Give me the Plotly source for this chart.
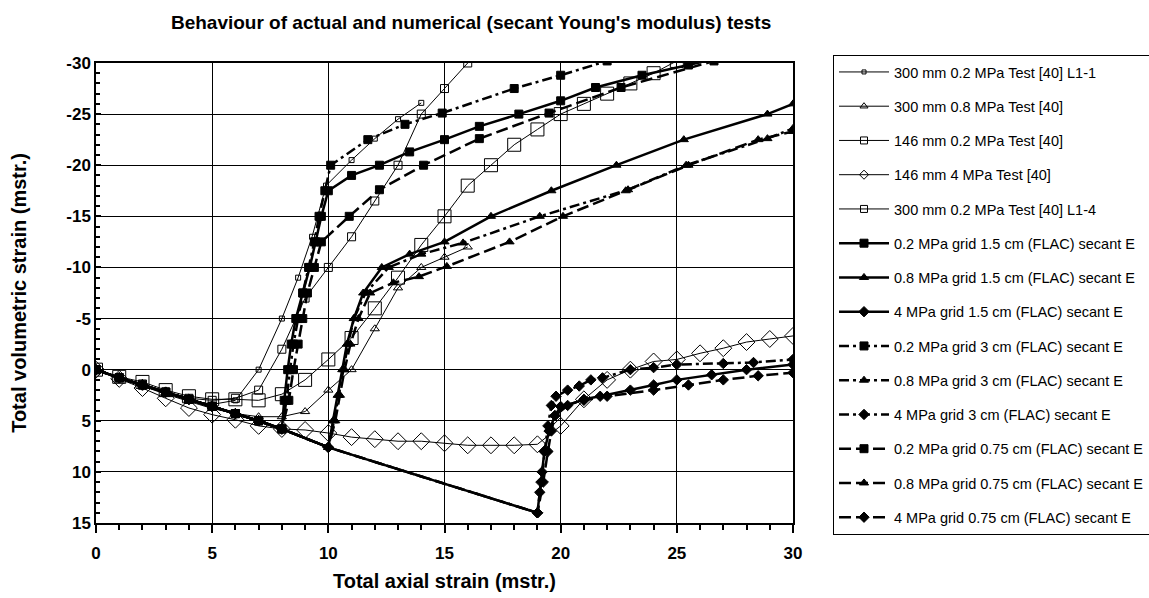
import plotly.graph_objects as go

# ---------------- data ----------------
# common initial branch of the FLAC curves
base_x = [0, 1, 2, 3, 4, 5, 6, 7, 8]
base_y = [0, 0.8, 1.5, 2.2, 2.9, 3.6, 4.3, 5.0, 5.8]

# Test series
t1_x = [0, 1, 2, 3, 4, 5, 6, 7, 8, 8.7, 9.3, 9.9, 11, 12, 13, 14]
t1_y = [0, 0.8, 1.5, 2.3, 3.0, 3.4, 3.0, 0, -5, -9, -13, -18, -20.5, -22.6, -24.5, -26.1]

t2_x = [0, 1, 2, 3, 4, 5, 6, 7, 8, 9, 10, 11, 12, 13, 14, 15, 16]
t2_y = [0, 0.8, 1.6, 2.4, 3.1, 3.8, 4.3, 4.6, 4.6, 4.1, 2.0, 0, -4, -8, -10, -11, -12]

t3_x = [0, 1, 2, 3, 4, 5, 6, 7, 8, 9, 10, 11, 12, 13, 14, 15, 16]
t3_y = [0, 0.8, 1.4, 2.2, 2.8, 3.0, 2.8, 2.0, -2.0, -7.0, -10.0, -13.0, -16.5, -20.0, -25.0, -27.5, -30.0]

t4_x = list(range(0, 31))
t4_y = [0, 0.9, 1.8, 2.8, 3.75, 4.4, 4.9, 5.5, 5.8, 5.9, 6.2, 6.6, 6.8, 7.0, 7.0, 7.2,
        7.4, 7.4, 7.4, 7.3, 5.5, 2.9, 1.0, 0, -0.8, -1.0, -1.6, -2.1, -2.7, -3.0, -3.3]

t5_x = list(range(0, 26))
t5_y = [0, 0.7, 1.2, 2.0, 2.6, 2.9, 2.9, 3.0, 2.4, 1.0, -1.0, -3.1, -6.0, -9.0, -12.2,
        -15.0, -18.0, -20.0, -22.0, -23.5, -25.0, -26.0, -27.0, -28.0, -29.0, -30.2]

# FLAC, grid 1.5 cm
f02_15_x = base_x + [8.1, 8.25, 8.4, 8.6, 8.9, 9.2, 9.45, 9.7, 10, 11, 12.2, 13.5, 15, 16.5, 18.2, 20, 21.5, 23.5, 25.5, 27]
f02_15_y = base_y + [3, 0, -2.5, -5, -7.5, -10, -12.5, -15, -17.5, -19, -20, -21.3, -22.5, -23.8, -25, -26.3, -27.6, -28.8, -29.8, -30.6]

f08_15_x = base_x + [10, 10.2, 10.4, 10.6, 10.8, 11.1, 11.5, 12.3, 13.5, 15, 17, 19.6, 22.4, 25.3, 28.9, 30]
f08_15_y = base_y + [7.6, 5, 2.5, 0, -2.5, -5, -7.5, -10, -11.3, -12.5, -15, -17.5, -20, -22.5, -25, -26]

f4_15_x = base_x + [10, 19, 19.1, 19.2, 19.3, 19.5, 19.75, 20.3, 21, 21.7, 23, 24, 25, 26.5, 28, 30]
f4_15_y = base_y + [7.6, 14.0, 12, 10, 8, 6, 4.5, 3.5, 2.9, 2.6, 2.0, 1.5, 1.0, 0.5, 0, -0.5]

# FLAC, grid 3 cm
f02_3_x = base_x + [8.2, 8.35, 8.5, 8.7, 8.9, 9.15, 9.4, 9.6, 9.85, 10.1, 11.7, 13.3, 14.9, 18, 20, 22]
f02_3_y = base_y + [3, 0, -2.5, -5, -7.5, -10, -12.5, -15, -17.5, -20, -22.5, -24, -25.1, -27.5, -28.8, -30.2]

f08_3_x = base_x + [10, 10.25, 10.45, 10.65, 10.85, 11.1, 11.6, 12.6, 14, 15.8, 19.1, 22.9, 25.4, 28.9, 30]
f08_3_y = base_y + [7.6, 5, 2.5, 0, -2.5, -5, -7.5, -10, -11.3, -12.4, -15, -17.6, -20, -22.6, -23.6]

f4_3_x = base_x + [10, 19, 19.15, 19.3, 19.45, 19.6, 19.8, 20.3, 20.8, 21.3, 21.8, 23, 24, 25, 27, 28.3, 30]
f4_3_y = base_y + [7.6, 14.0, 11, 8, 5.5, 3.5, 2.6, 2.0, 1.6, 1.0, 0.8, 0.0, -0.2, -0.5, -0.6, -0.7, -1.0]

# FLAC, grid 0.75 cm
f02_075_x = base_x + [8.3, 8.5, 8.7, 8.9, 9.1, 9.4, 9.7, 10.9, 12.2, 14.1, 16.5, 19.5, 22.6, 26.6]
f02_075_y = base_y + [3, 0, -2.5, -5, -7.5, -10, -12.5, -15, -17.6, -20, -22.6, -25.1, -27.6, -30.2]

f08_075_x = base_x + [10, 10.3, 10.5, 10.7, 10.95, 11.3, 11.8, 12.8, 13.9, 15.1, 17.8, 20.1, 22.8, 25.5, 28.5, 30]
f08_075_y = base_y + [7.6, 5, 2.5, 0, -2.5, -5, -7.5, -8.5, -9.1, -10.1, -12.5, -15, -17.5, -20, -22.5, -23.3]

f4_075_x = base_x + [10, 19, 19.25, 19.45, 19.6, 19.75, 20, 21, 22, 24, 25.5, 27, 28.5, 30]
f4_075_y = base_y + [7.6, 14.0, 11, 8, 6, 4.5, 3.6, 3.0, 2.6, 2.0, 1.5, 1.0, 0.6, 0.3]

names = [
    "300 mm 0.2 MPa Test [40] L1-1",
    "300 mm 0.8 MPa Test [40]",
    "146 mm 0.2 MPa Test [40]",
    "146 mm 4 MPa Test [40]",
    "300 mm 0.2 MPa Test [40] L1-4",
    "0.2 MPa grid 1.5 cm (FLAC) secant E",
    "0.8 MPa grid 1.5 cm (FLAC) secant E",
    "4 MPa grid 1.5 cm (FLAC) secant E",
    "0.2 MPa grid 3 cm (FLAC) secant E",
    "0.8 MPa grid 3 cm (FLAC) secant E",
    "4 MPa grid 3 cm (FLAC) secant E",
    "0.2 MPa grid 0.75 cm (FLAC) secant E",
    "0.8 MPa grid 0.75 cm (FLAC) secant E",
    "4 MPa grid 0.75 cm (FLAC) secant E",
]

x_tick_vals = [0, 5, 10, 15, 20, 25, 30]
x_tick_labels = ["0", "5", "10", "15", "20", "25", "30"]
y_tick_vals = [-30, -25, -20, -15, -10, -5, 0, 5, 10, 15]
y_tick_labels = ["-30", "-25", "-20", "-15", "-10", "-5", "0", "5", "10", "15"]

# ---------------- figure ----------------
FONT = "Arial, Liberation Sans, sans-serif"
fig = go.Figure()

DASH_3 = "10px,4px,3px,4px"
DASH_075 = "12px,5px"

# (x, y, plot marker, legend marker size, line width, dash)
specs = [
    (t1_x, t1_y, dict(symbol="square-open", size=5), 4, 1, None),
    (t2_x, t2_y, dict(symbol="triangle-up-open", size=8), 7, 1, None),
    (t3_x, t3_y, dict(symbol="square-open", size=8), 7, 1, None),
    (t4_x, t4_y, dict(symbol="diamond-open", size=13), 7, 1, None),
    (t5_x, t5_y, dict(symbol="square-open", size=13), 7, 1, None),
    (f02_15_x, f02_15_y, dict(symbol="square", size=8), 8, 2.5, "solid"),
    (f08_15_x, f08_15_y, dict(symbol="triangle-up", size=8), 8, 2.5, "solid"),
    (f4_15_x, f4_15_y, dict(symbol="diamond", size=8), 8, 2.5, "solid"),
    (f02_3_x, f02_3_y, dict(symbol="square", size=8), 8, 2.5, DASH_3),
    (f08_3_x, f08_3_y, dict(symbol="triangle-up", size=8), 8, 2.5, DASH_3),
    (f4_3_x, f4_3_y, dict(symbol="diamond", size=8), 8, 2.5, DASH_3),
    (f02_075_x, f02_075_y, dict(symbol="square", size=8), 8, 2.5, DASH_075),
    (f08_075_x, f08_075_y, dict(symbol="triangle-up", size=8), 8, 2.5, DASH_075),
    (f4_075_x, f4_075_y, dict(symbol="diamond", size=8), 8, 2.5, DASH_075),
]

for i, (xs, ys, mk, lsize, lw, dash) in enumerate(specs):
    line = dict(color="black", width=lw)
    if dash:
        line["dash"] = dash
    mk_plot = dict(mk, color="black", line=dict(color="black", width=1))
    fig.add_trace(go.Scatter(
        x=xs, y=ys, mode="lines+markers", name=names[i],
        marker=mk_plot, line=line, showlegend=False, legendgroup=f"g{i}",
    ))
    # legend-only entry (no points) with a small marker like the reference legend
    mk_leg = dict(symbol=mk["symbol"], size=lsize, color="black", line=dict(color="black", width=1))
    fig.add_trace(go.Scatter(
        x=[None], y=[None], mode="lines+markers", name=names[i],
        marker=mk_leg, line=line, showlegend=True, legendgroup=f"g{i}",
    ))

fig.update_layout(
    width=1149, height=598,
    margin=dict(l=96, r=356, t=30, b=30, autoexpand=False),
    paper_bgcolor="white", plot_bgcolor="white",
    font=dict(family=FONT, color="black"),
    title=dict(
        text="Behaviour of actual and numerical (secant Young's modulus) tests",
        x=0.41, xanchor="center", y=0.963, yanchor="middle",
        font=dict(size=19, family=FONT, weight="bold", color="black"),
    ),
    showlegend=True,
    legend=dict(
        x=1.0574, xanchor="left", y=0.9535, yanchor="top",
        bgcolor="white", bordercolor="black", borderwidth=1,
        font=dict(size=14.5, family=FONT, color="black"),
        tracegroupgap=12.4, itemwidth=50,
    ),
)

fig.update_xaxes(
    range=[0, 30], tickmode="array", tickvals=x_tick_vals, ticktext=x_tick_labels,
    showgrid=True, gridcolor="black", gridwidth=1,
    showline=True, linecolor="black", linewidth=1.5, mirror=True,
    ticks="outside", ticklen=8, tickcolor="black", tickwidth=1.5,
    minor=dict(dtick=1, ticks="outside", ticklen=5, tickcolor="black", tickwidth=1.5, showgrid=False),
    tickfont=dict(size=17, family=FONT, weight="bold"),
    ticklabelstandoff=6,
    zeroline=False,
    title=dict(text="Total axial strain (mstr.)", standoff=12,
               font=dict(size=20, family=FONT, weight="bold")),
)
fig.update_yaxes(
    domain=[0.08364, 0.9387],
    range=[15, -30], tickmode="array", tickvals=y_tick_vals, ticktext=y_tick_labels,
    showgrid=True, gridcolor="black", gridwidth=1,
    showline=True, linecolor="black", linewidth=1.5, mirror=True,
    ticks="inside", ticklen=5, tickcolor="black", tickwidth=1.5,
    minor=dict(dtick=1, ticks="inside", ticklen=4, tickcolor="black", tickwidth=1.5, showgrid=False),
    tickfont=dict(size=17, family=FONT, weight="bold"),
    zeroline=False,
    title=dict(text="Total volumetric strain (mstr.)", standoff=34,
               font=dict(size=20, family=FONT, weight="bold")),
)

fig.write_html("out.html")
